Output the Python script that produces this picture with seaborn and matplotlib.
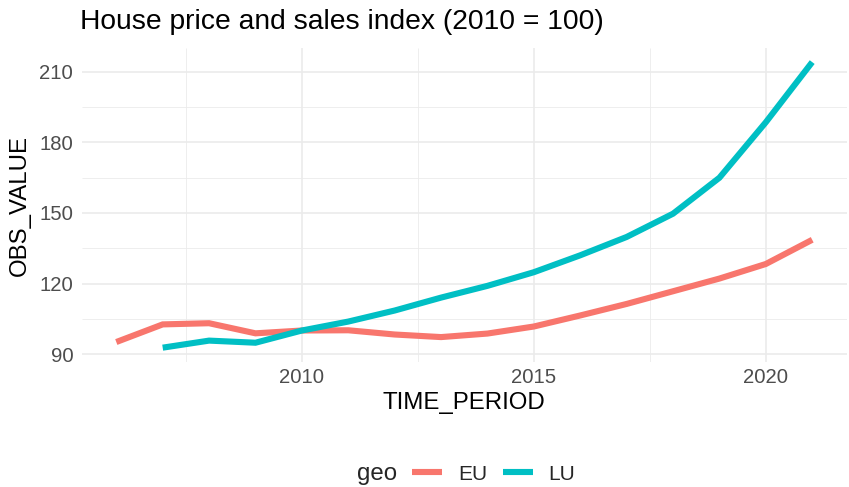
import numpy as np
import pandas as pd
import matplotlib
matplotlib.use("Agg")
import matplotlib.pyplot as plt
import seaborn as sns

eu_years = [2006, 2007, 2008, 2009, 2010, 2011, 2012, 2013, 2014, 2015, 2016, 2017, 2018, 2019, 2020, 2021]
eu_values = [95.1, 102.6, 103.1, 98.8, 100.0, 100.1, 98.3, 97.2, 98.7, 101.7, 106.4, 111.3, 116.7, 122.1, 128.3, 138.6]
lu_years = [2007, 2008, 2009, 2010, 2011, 2012, 2013, 2014, 2015, 2016, 2017, 2018, 2019, 2020, 2021]
lu_values = [92.7, 95.7, 94.8, 100.0, 103.8, 108.5, 114.0, 119.0, 124.8, 132.0, 139.8, 149.7, 165.0, 188.6, 214.2]
geo_labels = ["EU", "LU"]
y_ticks = [90, 120, 150, 180, 210]
x_ticks = [2010, 2015, 2020]

df = pd.concat([
    pd.DataFrame({"TIME_PERIOD": eu_years, "OBS_VALUE": eu_values, "geo": "EU"}),
    pd.DataFrame({"TIME_PERIOD": lu_years, "OBS_VALUE": lu_values, "geo": "LU"}),
])

sns.set_theme(style="white")
plt.rcParams["font.family"] = ["Liberation Sans", "DejaVu Sans"]

fig = plt.figure(figsize=(8.49, 4.87), dpi=100)
ax = fig.add_axes([81.5 / 849, 1 - 362 / 487, (847 - 81.5) / 849, (362 - 48) / 487])

grid_major = "#EBEBEB"
for v in [105, 135, 165, 195]:
    ax.axhline(v, color=grid_major, lw=0.6, zorder=0)
for v in [2007.5, 2012.5, 2017.5]:
    ax.axvline(v, color=grid_major, lw=0.6, zorder=0)
for v in y_ticks:
    ax.axhline(v, color=grid_major, lw=1.2, zorder=0)
for v in x_ticks:
    ax.axvline(v, color=grid_major, lw=1.2, zorder=0)

sns.lineplot(data=df, x="TIME_PERIOD", y="OBS_VALUE", hue="geo", hue_order=geo_labels,
             palette=["#F8766D", "#00BFC4"], linewidth=4.4, ax=ax, zorder=3)
for ln in ax.lines:
    ln.set_solid_capstyle("butt")
    ln.set_solid_joinstyle("miter")

ax.set_xlim(2005.25, 2021.75)
ax.set_ylim(86.6, 220.2)
ax.set_xticks(x_ticks)
ax.set_yticks(y_ticks)
ax.tick_params(axis="both", labelsize=14.6, colors="#4D4D4D", length=0)
ax.tick_params(axis="y", pad=6)
ax.tick_params(axis="x", pad=4)
for s in ax.spines.values():
    s.set_visible(False)
ax.set_xlabel("TIME_PERIOD", fontsize=17.3, color="black", labelpad=4)
ax.set_ylabel("OBS_VALUE", fontsize=17.3, color="black", labelpad=6)

fig.text(80 / 849, 1 - 22 / 487, "House price and sales index (2010 = 100)",
         fontsize=20.3, ha="left", va="center", color="black")

handles, labels = ax.get_legend_handles_labels()
ax.legend_.remove()
fig.text(357 / 849, 1 - 474 / 487, "geo", fontsize=17.3, ha="left", va="center")
leg = fig.legend(handles, labels, loc="center left", bbox_to_anchor=(412 / 849, 1 - 474 / 487),
                 ncol=2, frameon=False, fontsize=15, handlelength=1.45,
                 handletextpad=0.75, columnspacing=0.75, borderpad=0, borderaxespad=0)
for h in leg.get_lines():
    h.set_linewidth(4.4)
    h.set_solid_capstyle("butt")

fig.savefig("out.png", dpi=100)
